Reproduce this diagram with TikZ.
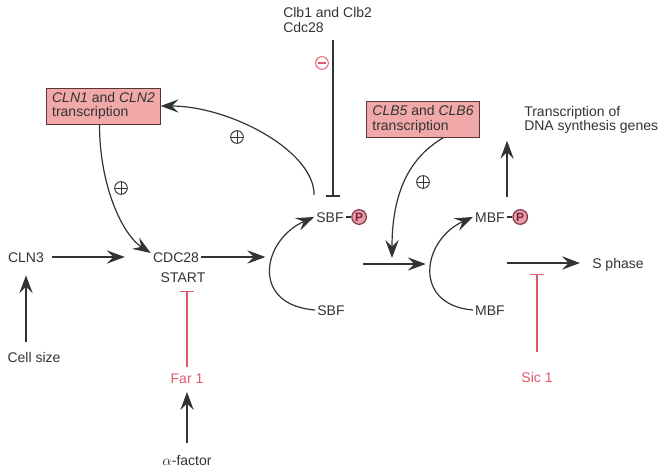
\documentclass[tikz,border=0pt]{standalone}
\usepackage{fontspec}
\setmainfont{Liberation Sans}
\usetikzlibrary{arrows.meta,positioning,calc}
\definecolor{ink}{HTML}{333333}
\definecolor{stopred}{HTML}{E2566A}
\definecolor{boxfill}{HTML}{F0A8A8}
\definecolor{boxedge}{HTML}{5A3434}
\definecolor{pfill}{HTML}{E89CAA}
\definecolor{pedge}{HTML}{7A2636}

\begin{document}
\begin{tikzpicture}[x=0.75pt,y=-0.75pt,font=\fontsize{10.5}{11}\selectfont,text=ink,
  lbl/.style={inner sep=1.5pt,text height=7.6pt,text depth=0pt},
  genebox/.style={draw=boxedge,fill=boxfill,line width=0.7pt,align=left,inner sep=3pt,
    minimum width=85pt,minimum height=27pt},
  arr/.style={draw=ink,line width=0.9pt,-{Stealth[length=13.5pt,width=10pt,inset=5pt]}},
  blockline/.style={draw=ink,line width=0.9pt,-{Bar[width=11pt,line width=0.9pt]}},
  redblock/.style={blockline,draw=stopred,line width=0.8pt},
  pluscirc/.style={circle,draw=ink,line width=0.7pt,inner sep=0pt,minimum size=9.5pt,
    path picture={\draw[ink,line width=0.7pt]
      (path picture bounding box.north) -- (path picture bounding box.south)
      (path picture bounding box.west) -- (path picture bounding box.east);}},
  minuscirc/.style={circle,draw=stopred,line width=0.7pt,inner sep=0pt,minimum size=9.5pt,
    path picture={\draw[stopred,line width=0.9pt]
      ([xshift=-2.8pt]path picture bounding box.center) -- ([xshift=2.8pt]path picture bounding box.center);}},
  phos/.style={circle,draw=pedge,fill=pfill,line width=0.8pt,inner sep=0pt,minimum size=11pt,
    text=pedge,font=\fontsize{9}{9}\selectfont\bfseries}]
  \useasboundingbox (0,0) rectangle (658,467);

  \node[anchor=west,align=left,inner sep=0pt] (clb) at (283,20) {Clb1 and Clb2\\Cdc28};
  \coordinate (clbfoot) at (333,40);
  \node[minuscirc] (clbminus) at (322,63) {};

  \node[genebox] (clnbox) at (103.5,106) {\textit{CLN1} and \textit{CLN2}\\transcription};
  \node[genebox] (clbbox) at (423,119.5) {\textit{CLB5} and \textit{CLB6}\\transcription};
  \node[anchor=west,align=left,inner sep=0pt] (dna) at (524,120) {Transcription of\\DNA synthesis genes};

  \node[lbl] (cln3) at (26,257) {CLN3};
  \node[lbl] (cellsize) at (34,357) {Cell size};
  \node[lbl] (cdc) at (176,257) {CDC28};
  \node[lbl] (start) at (183,277) {START};
  \node[lbl,text=stopred] (far1) at (187,378) {Far 1};
  \node[lbl] (alpha) at (187,460) {$\alpha$-factor};

  \node[lbl] (sbfp) at (330,217) {SBF};
  \node[phos,right=4pt of sbfp] (sbfpP) {P};
  \node[lbl] (sbf) at (331,310) {SBF};
  \node[lbl] (mbfp) at (490,217) {MBF};
  \node[phos,right=4pt of mbfp] (mbfpP) {P};
  \node[lbl] (mbf) at (490,310) {MBF};
  \node[lbl,anchor=west] (sphase) at (590,263) {S phase};
  \node[lbl,text=stopred] (sic) at (537,377) {Sic 1};

  \foreach \px/\py [count=\i] in {237/137,121/188,423/182}
    \node[pluscirc] (plus\i) at (\px,\py) {};

  \coordinate (midtail) at (363,264);
  \coordinate (clbdrop) at (392,258);
  \coordinate (stail) at (507,263);

  \draw[ink,line width=0.8pt] (sbfp.east) -- (sbfpP.west);
  \draw[ink,line width=0.8pt] (mbfp.east) -- (mbfpP.west);

  \draw[blockline,shorten >=9.75pt] (clbfoot) -- (clbfoot |- sbfp.north);
  \draw[arr] ([yshift=11pt]sbfp.north west) .. controls +(0,-45) and +(68,0) .. (clnbox.east);
  \draw[arr] ([xshift=-3pt]clnbox.south) .. controls +(0,62) and +(-28,-18) .. ([yshift=3pt]cdc.west);
  \draw[arr,shorten <=4.5pt,shorten >=19.5pt] (cln3) -- (cdc);
  \draw[arr,shorten <=6pt,shorten >=8.25pt] (cln3.south |- cellsize.north) -- (cln3.south);

  \draw[arr] (sbf.west) .. controls (250,305) and (262,240) .. (sbfp.west) coordinate[pos=0.5] (sbfarc);
  \draw[arr,shorten >=4pt] (cdc.east) -- (cdc.east -| sbfarc);

  \draw[arr] (mbf.west) .. controls (412,305) and (422,240) .. (mbfp.west) coordinate[pos=0.5] (mbfarc);
  \draw[arr,shorten >=4pt] (midtail) -- (midtail -| mbfarc);
  \draw[arr] ([xshift=15pt]clbbox.south) .. controls +(-38,22) and +(0,-58) .. (clbdrop);

  \draw[arr,shorten <=9.75pt,shorten >=5pt] (mbfp.north east) -- (mbfp.north east |- dna.south);
  \draw[arr,shorten >=7.5pt] (stail) -- (sphase.west);

  \draw[redblock,shorten <=13.5pt,shorten >=8.25pt] (sic.north) -- (sic.north |- stail);
  \draw[redblock,shorten <=3pt,shorten >=5pt] (far1.north) -- (far1.north |- start.south);
  \draw[arr,shorten <=7.5pt,shorten >=5pt] (alpha.north) -- (far1.south);
\end{tikzpicture}
\end{document}
